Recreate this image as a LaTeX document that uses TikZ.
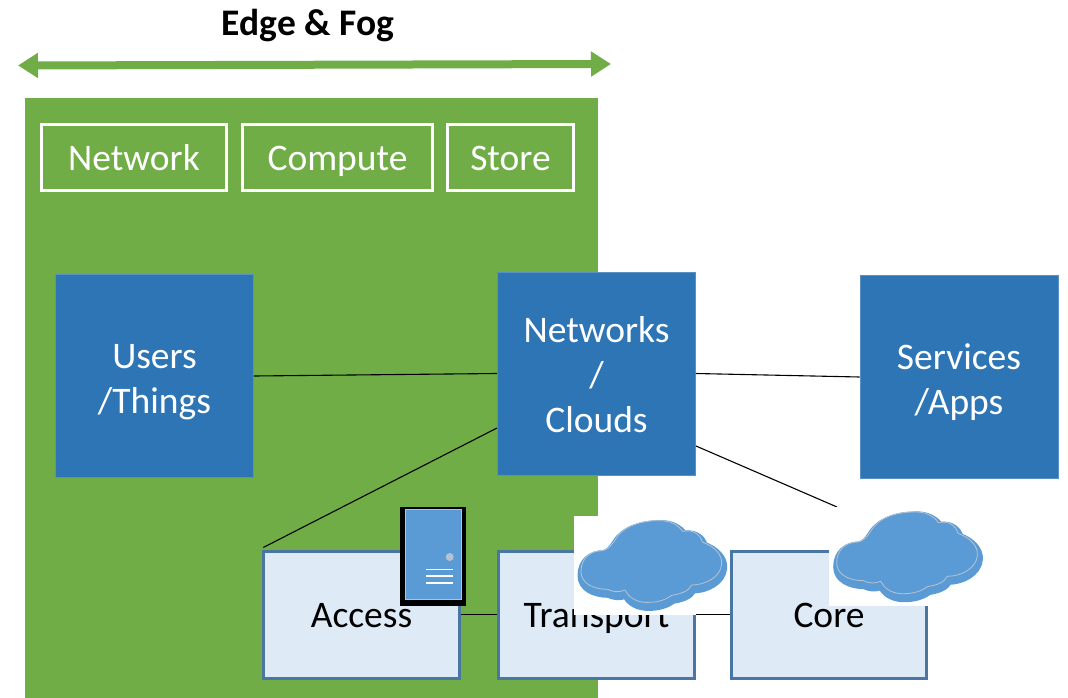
\documentclass[tikz,border=0pt]{standalone}
\usepackage{fontspec}
\setmainfont{Carlito}
\usetikzlibrary{arrows.meta,calc}
\definecolor{fogGreen}{HTML}{70AD47}
\definecolor{deepBlue}{HTML}{2E75B6}
\definecolor{midBlue}{HTML}{5B9BD5}
\definecolor{paleBlue}{HTML}{DEEAF6}
\definecolor{edgeBlue}{HTML}{4A76A4}
\definecolor{cloudLine}{HTML}{B4C3D2}
\tikzset{
  lbl/.style={font=\fontsize{37.5}{45}\selectfont,align=center,inner sep=0pt},
  capbox/.style={lbl,draw=white,line width=2.4pt,text=white,minimum height=66pt,text height=30pt,text depth=5pt},
  bluebox/.style={lbl,fill=deepBlue,draw=deepBlue!80!white,line width=.8pt,text=white,minimum width=198pt,minimum height=203pt,text depth=0pt,text height=75pt},
  palebox/.style={lbl,fill=paleBlue,draw=edgeBlue,line width=3pt,text=black,minimum width=195.5pt,minimum height=127pt,text height=31pt,text depth=5pt},
  link/.style={draw=black,line width=1.1pt},
  mask/.style={fill=white,inner sep=0pt,minimum width=156pt,minimum height=99pt},
  span/.style={draw=fogGreen,line width=8pt,{Triangle[width=24pt,length=20pt]}-{Triangle[width=24pt,length=20pt]}},
}
\newcommand{\cloudshape}{
  (603,245)
  .. controls (603,205) and (630,182) .. (668,182)
  .. controls (685,178) and (695,165) .. (705,150)
  .. controls (730,105) and (790,92) .. (835,92)
  .. controls (870,90) and (895,105) .. (908,124)
  .. controls (935,118) and (960,130) .. (967,156)
  .. controls (1005,170) and (1027,195) .. (1025,222)
  .. controls (1022,262) and (975,285) .. (935,285)
  .. controls (925,305) and (900,312) .. (875,316)
  .. controls (850,335) and (820,338) .. (795,337)
  .. controls (765,335) and (745,320) .. (735,300)
  .. controls (715,308) and (700,306) .. (683,298)
  .. controls (640,298) and (603,280) .. (603,245) -- cycle
}
\newcommand{\cloudat}[2]{
  \begin{scope}[shift={(#1,#2)},scale=1/3]
    \fill[midBlue,draw=midBlue,line width=9pt,line join=round,xshift=3pt,yshift=-12pt] \cloudshape;
    \fill[midBlue,draw=cloudLine,line width=.8pt] \cloudshape;
  \end{scope}
}
\begin{document}
\begin{tikzpicture}[x=1pt,y=-1pt]
\useasboundingbox (0,0) rectangle (1068,698);
\fill[fogGreen] (25,98) rectangle (598,698);

\node[lbl,font=\fontsize{37.5}{45}\selectfont\bfseries] (title) at (308,26) {Edge \& Fog};
\coordinate (spanL) at (18,65.5);
\coordinate (spanR) at (611,64);
\draw[span] (spanL) -- (spanR);

\node[capbox,minimum width=185pt] (capNet) at (134,157.5) {Network};
\node[capbox,minimum width=190pt] (capCom) at (337.5,157.5) {Compute};
\node[capbox,minimum width=126pt] (capSto) at (510.5,157.5) {Store};

\node[bluebox] (users) at (154.5,376) {Users\\/Things};
\node[bluebox,text height=118pt] (nets) at (596.5,373.5) {Networks\\/\\Clouds};
\node[bluebox] (apps) at (959,377) {Services\\/Apps};

\node[palebox] (access) at (361.5,614.5) {Access};
\node[palebox] (trans) at (596.5,614.5) {Transport};
\node[palebox] (core) at (829,614.5) {Core};

\coordinate (netsLow) at (497,428);
\coordinate (netsLowR) at (696,446);
\coordinate (coreEnd) at (837,507);
\coordinate (accessTop) at ($(access.north west)+(1,-2)$);

\draw[link] (users.east) -- (nets.west);
\draw[link] (nets.east) -- (apps.west);
\draw[link] (netsLow) -- (accessTop);
\draw[link] (netsLowR) -- (coreEnd);
\draw[link] (access.east) -- (trans.west);

\node[mask,minimum width=156pt] (maskA) at (652,565.5) {};
\node[mask,minimum width=156pt] (maskB) at (907,556.5) {};
\draw[link] (trans.east) -- (core.west);
\cloudat{380}{490}
\cloudat{635.7}{481.3}

\node[fill=black,inner sep=0pt,minimum width=66pt,minimum height=99pt] (srvOuter) at (433,556.5) {};
\node[fill=midBlue,draw=cloudLine,line width=.9pt,inner sep=0pt,minimum width=56pt,minimum height=90pt] (srvInner) at (433,554) {};
\fill[cloudLine] (449.7,557) circle (4pt);
\draw[white,line width=1.6pt] (426,569.3) -- (453,569.3) (426,576) -- (453,576) (426,582.7) -- (453,582.7);
\end{tikzpicture}
\end{document}
